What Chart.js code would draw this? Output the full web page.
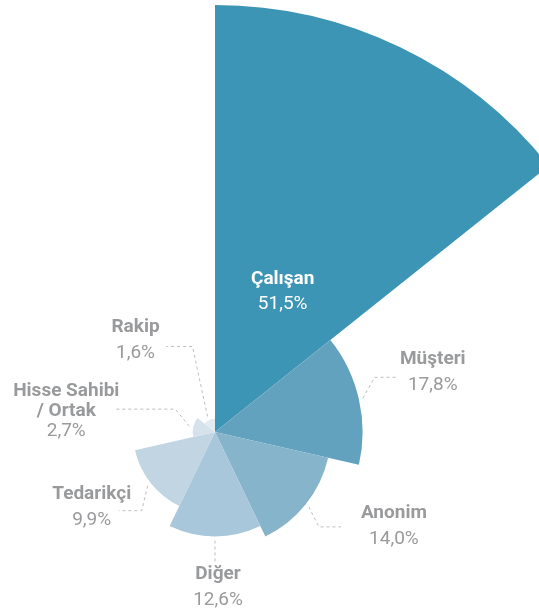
<!DOCTYPE html>
<html lang="tr">
<head>
<meta charset="utf-8">
<title>Bildirim kaynakları</title>
<script src="https://cdn.jsdelivr.net/npm/chart.js@4/dist/chart.umd.min.js"></script>
<style>
  html, body { margin: 0; padding: 0; background: #fff; overflow: hidden; }
  body { width: 539px; height: 614px; position: relative; }
  /* grafik merkezi (215,432), yarıçap 427: tuval sayfanın dışına taşıyor */
  #wrap { position: absolute; left: -212px; top: 5px; width: 854px; height: 854px; }
</style>
</head>
<body>
<div id="wrap"><canvas id="chart" width="854" height="854"></canvas></div>
<script>
// ── veriler ──
const categories = ['Çalışan', 'Müşteri', 'Anonim', 'Diğer', 'Tedarikçi', ['Hisse Sahibi', '/ Ortak'], 'Rakip'];
const shares     = [51.5, 17.8, 14.0, 12.6, 9.9, 2.7, 1.6];
const colors     = ['#3d95b5', '#62a2bf', '#85b4cb', '#a8c7da', '#c2d5e2', '#d6e2eb', '#e3ebf1'];

// ── etiket yerleşimi (dilim ucuna göre göreli) ──
// kink: kırılma noktası, run: yatay çizgi, text: metin merkezi (çizgi sonuna göre)
const labelLayout = [
  { inside: true, dist: 156 },
  { kink: [12, -21],  run: 23,  text: [35, -18] },
  { kink: [10, 20],   run: 22,  text: [53, -14] },
  { kink: [0, 21],    run: 0,   text: [3, 13] },
  { kink: [-6, 25],   run: -23, text: [-27, -16] },
  { kink: [-14, -17], run: -61, text: [-48, -18] },
  { kink: [-15, -70], run: -26, text: [-31, -19] },
];

const fmtPct = v => v.toFixed(1).replace('.', ',') + '%';
const FONT = 'Roboto, "Liberation Sans", sans-serif';
const FONT_SIZE = 19;
const LINE_H = 20;

const labelPlugin = {
  id: 'sliceLabels',
  afterDatasetsDraw(chart) {
    const ctx = chart.ctx;
    const arcs = chart.getDatasetMeta(0).data;
    ctx.save();
    ctx.textAlign = 'center';
    ctx.textBaseline = 'middle';
    arcs.forEach((arc, i) => {
      const lay = labelLayout[i];
      const mid = (arc.startAngle + arc.endAngle) / 2;
      const name = [].concat(categories[i]);
      const lines = [...name.map(t => ({ t, bold: true })), { t: fmtPct(shares[i]), bold: false }];

      if (lay.inside) {
        const cx = arc.x + Math.cos(mid) * lay.dist;
        const cy = arc.y + Math.sin(mid) * lay.dist;
        ctx.fillStyle = '#fff';
        lines.forEach((l, k) => {
          ctx.font = (l.bold ? 'bold ' : '') + FONT_SIZE + 'px ' + FONT;
          ctx.fillText(l.t, cx, cy + (k - (lines.length - 1) / 2) * 25);
        });
        return;
      }

      // kesikli kılavuz çizgisi
      const r = arc.outerRadius + 4;
      const sx = arc.x + Math.cos(mid) * r;
      const sy = arc.y + Math.sin(mid) * r;
      const kx = sx + lay.kink[0], ky = sy + lay.kink[1];
      const ex = kx + lay.run, ey = ky;
      ctx.strokeStyle = '#bdbdbd';
      ctx.lineWidth = 1;
      ctx.setLineDash([3, 3]);
      ctx.beginPath();
      ctx.moveTo(sx, sy);
      ctx.lineTo(kx, ky);
      if (lay.run) ctx.lineTo(ex, ey);
      ctx.stroke();
      ctx.setLineDash([]);

      const tx = ex + lay.text[0];
      const ty = ey + lay.text[1];
      ctx.fillStyle = '#999a9c';
      lines.forEach((l, k) => {
        ctx.font = (l.bold ? 'bold ' : '') + FONT_SIZE + 'px ' + FONT;
        // tek satırlık isimlerde yüzde satırı biraz aralıklı
        const y = ty + k * (k === lines.length - 1 && name.length === 1 ? 26 : LINE_H);
        ctx.fillText(l.t, tx, y);
      });
    });
    ctx.restore();
  },
};

new Chart(document.getElementById('chart'), {
  type: 'polarArea',
  data: {
    labels: categories,
    datasets: [{
      data: shares,
      backgroundColor: colors,
      borderWidth: 0,
    }],
  },
  options: {
    responsive: false,
    animation: false,
    layout: { padding: 0 },
    plugins: { legend: { display: false }, tooltip: { enabled: false } },
    scales: {
      r: { min: 0, max: 51.5, display: false },
    },
  },
  plugins: [labelPlugin],
});
</script>
</body>
</html>
